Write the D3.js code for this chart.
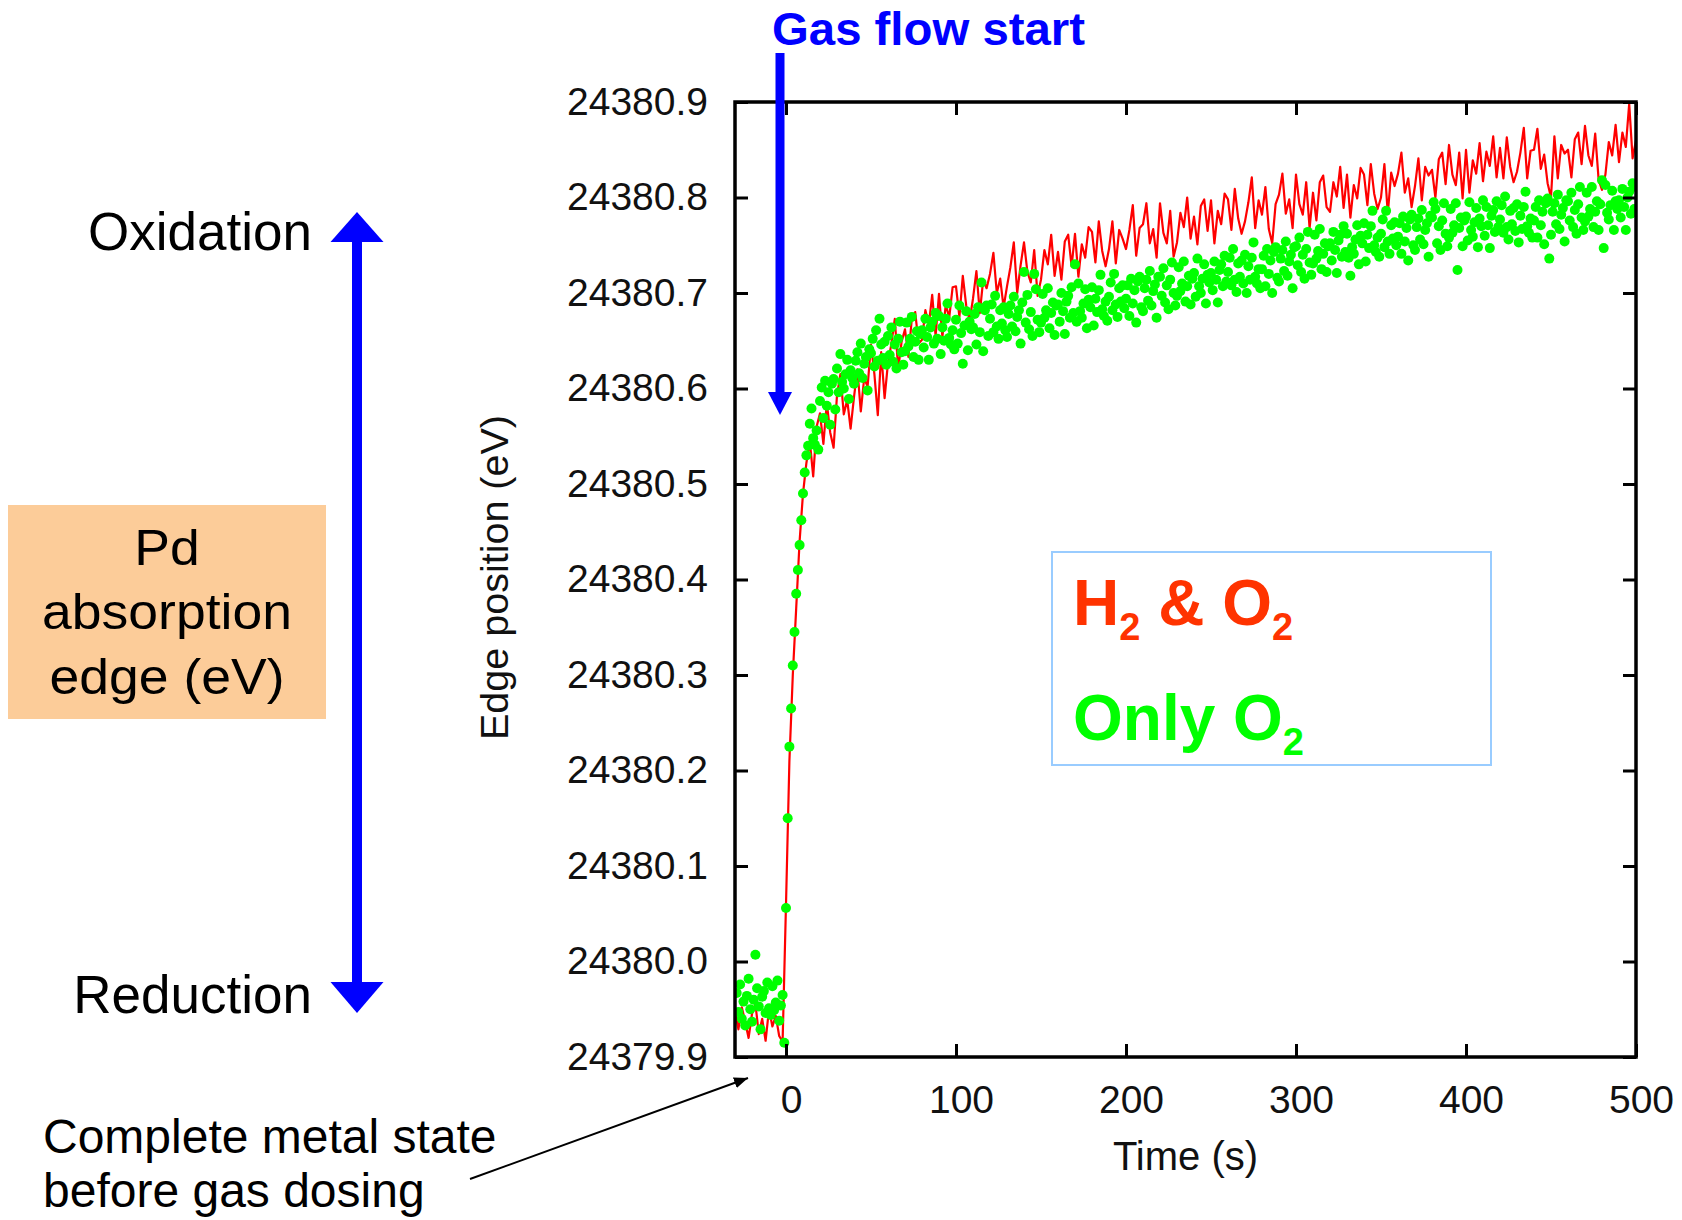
<!DOCTYPE html>
<html lang="en">
<head>
<meta charset="UTF-8">
<title>Pd edge position</title>
<style>
  body { margin: 0; background: #fff; }
  text { font-family: "Liberation Sans", Arial, Helvetica, sans-serif; }
</style>
</head>
<body>
<svg id="chart" width="1682" height="1220"></svg>
<script src="https://d3js.org/d3.v7.min.js"></script>
<script>
// edge positions are kept in meV above 24380 eV
const EDGE_BASE = 24380;

// H2 & O2 run: one reading every 2 s starting at -30 s
const RED_T0 = -30, RED_DT = 2;
const redEdge = [
  -52,-71,-48,-63,-80,-55,-44,-76,-60,-83,-50,-68,-57,-78,-84,
  60,210,300,370,440, 490,522,545,508,560, 574,542,585,554,538, 593,615,573,588,558,
  591,620,576,611,602, 646,615,572,638,590, 627,647,673,620,649, 662,633,673,680,647,
  651,682,667,698,655, 699,654,688,674,706, 707,675,718,687,671, 694,723,679,714,705,
  720,742,700,715,685, 707,727,753,700,729, 753,722,711,745,697, 714,745,730,761,718,
  743,714,754,761,728, 762,717,751,737,769, 764,732,775,744,728, 746,775,731,766,757,
  746,766,792,739,768, 772,794,752,767,737, 794,763,752,786,738, 753,784,769,800,757,
  780,751,791,798,765, 797,752,786,772,804, 798,766,809,778,762, 775,795,821,768,797,
  782,811,767,752,793, 803,825,783,798,768, 824,793,782,816,768, 805,776,816,823,790,
  785,816,801,832,789, 824,779,813,799,831, 824,792,835,804,788, 800,835,783,826,812,
  825,847,805,820,790, 812,841,797,832,823, 829,800,840,847,814, 855,824,813,847,799,
  850,805,839,825,857, 817,848,833,864,821, 852,820,863,832,816, 827,847,873,820,849,
  850,872,830,845,815, 800,864,820,855,846, 850,821,861,868,835, 875,844,833,867,819,
  808,824,858,844,876, 837,868,853,898,841, 860
];

// only O2 run: one reading every 1 s starting at -29 s
const GREEN_T0 = -29, GREEN_DT = 1;
const greenEdge = [
  -33,-53,-24,-60,-42,-67,-36,-18,-50,-63, -40,7,-28,-47,-71,-37,-31,-54,-22,-49,
  -56,-26,-51,-43,-20,-62,-46,-35,-85,
  56,150,225,265,310,345,385,410,436,462, 490,512,530,540,563,579,548,541,556,536,
  587,601,569,608,582,596,562,605,610,578, 621,596,636,607,600,615,630,589,619,611,
  605,629,638,616,647,611,626,633,598,641, 637,652,623,661,629,673,646,632,649,625,
  655,635,664,628,646,621,652,670,638,625, 639,669,644,652,675,633,649,660,630,657,
  661,643,673,654,630,664,670,647,679,652, 676,636,664,650,673,689,653,646,661,641,
  672,647,687,658,626,666,681,640,670,662, 664,678,646,685,659,711,639,682,687,655,
  673,688,659,697,665,652,682,668,685,661, 654,678,687,665,696,660,675,682,647,690,
  722,669,698,662,680,655,720,704,672,659, 669,699,674,682,705,663,679,690,656,687,
  688,670,700,681,657,691,697,674,706,679, 730,670,710,681,674,689,704,663,693,685,
  706,666,694,680,703,719,683,676,691,671, 696,711,682,720,688,675,705,691,708,684,
  694,708,676,715,689,703,669,712,717,685, 681,705,714,692,723,687,702,709,674,717,
  717,697,726,690,708,683,714,732,700,687, 697,727,702,710,733,691,707,718,688,715,
  721,696,736,707,700,715,730,689,719,711, 721,703,733,714,690,724,730,707,739,712,
  722,737,708,746,714,701,731,717,734,710, 740,700,728,714,737,753,717,710,725,705,
  725,739,707,746,720,734,700,743,748,716, 712,736,745,723,754,718,733,740,705,748,
  749,729,758,722,740,715,746,764,732,719, 731,761,736,744,767,725,741,752,722,749,
  752,734,764,745,721,755,761,738,770,743, 762,737,718,748,741,756,771,730,760,752,
  773,733,761,747,770,786,750,743,758,738, 762,777,748,786,754,741,771,757,774,750,
  759,773,741,780,754,768,734,777,782,750, 745,769,778,756,787,751,766,773,738,781,
  779,795,788,752,770,745,776,794,762,749, 758,788,763,771,794,724,768,779,749,776,
  780,755,795,766,759,774,789,748,778,770, 797,760,790,771,747,781,787,764,796,769,
  777,792,763,801,769,756,786,772,789,765, 793,753,781,767,790,806,770,763,778,758,
  776,790,758,797,771,785,751,794,799,736, 761,785,794,772,803,767,782,789,754,797,
  796,776,805,769,787,762,793,811,779,766, 775,805,780,788,811,769,785,796,766,793,
  818,747,813,784,777,792,807,766,796,788, 797,779,809,790,766,800,806,783,815,788,811
];

const yTicks = [24379.9, 24380.0, 24380.1, 24380.2, 24380.3, 24380.4, 24380.5, 24380.6, 24380.7, 24380.8, 24380.9];
const xTicks = [0, 100, 200, 300, 400, 500];

const svg = d3.select('#chart');

// plot area
const plotL = 735, plotR = 1636, plotT = 102, plotB = 1057;

const x = d3.scaleLinear().domain([-30, 500]).range([plotL, plotR]);
const y = d3.scaleLinear().domain([24379.9, 24380.9]).range([plotB, plotT]);

const edge = d => EDGE_BASE + d / 1000;

const defs = svg.append('defs');
defs.append('clipPath').attr('id', 'plotClip')
  .append('rect')
  .attr('x', plotL).attr('y', plotT - 2)
  .attr('width', plotR - plotL).attr('height', plotB - plotT + 2);

// data
const plot = svg.append('g').attr('clip-path', 'url(#plotClip)');

const redLine = d3.line()
  .x((d, i) => x(RED_T0 + i * RED_DT))
  .y(d => y(edge(d)));

plot.append('path')
  .datum(redEdge)
  .attr('d', redLine)
  .attr('fill', 'none')
  .attr('stroke', '#ff0000')
  .attr('stroke-width', 2.2)
  .attr('stroke-linejoin', 'round');

plot.selectAll('.dot')
  .data(greenEdge)
  .enter().append('circle')
  .attr('class', 'dot')
  .attr('cx', (d, i) => x(GREEN_T0 + i * GREEN_DT))
  .attr('cy', d => y(edge(d)))
  .attr('r', 5)
  .attr('fill', '#00ff00');

// axes, ticks point inward
function styleAxis(g) {
  g.select('.domain').remove();
  g.selectAll('line').attr('stroke', '#000').attr('stroke-width', 3);
  g.selectAll('text')
    .attr('font-family', '"Liberation Sans", Arial, sans-serif')
    .attr('font-size', 39)
    .attr('fill', '#111');
}

svg.append('g')
  .attr('transform', `translate(${plotL},0)`)
  .call(d3.axisLeft(y).tickValues(yTicks).tickSize(-13).tickPadding(27).tickFormat(d3.format('.1f')))
  .call(styleAxis);

svg.append('g')
  .attr('transform', `translate(${plotR},0)`)
  .call(d3.axisRight(y).tickValues(yTicks).tickSize(-13).tickFormat(''))
  .call(styleAxis);

const xAxisG = svg.append('g')
  .attr('transform', `translate(0,${plotB})`)
  .call(d3.axisBottom(x).tickValues(xTicks).tickSize(-13).tickPadding(28))
  .call(styleAxis);
xAxisG.selectAll('text').attr('dx', 5);

svg.append('g')
  .attr('transform', `translate(0,${plotT})`)
  .call(d3.axisTop(x).tickValues(xTicks).tickSize(-13).tickFormat(''))
  .call(styleAxis);

// frame
svg.append('rect')
  .attr('x', plotL).attr('y', plotT)
  .attr('width', plotR - plotL).attr('height', plotB - plotT)
  .attr('fill', 'none')
  .attr('stroke', '#000')
  .attr('stroke-width', 3.5);

// axis titles
svg.append('text')
  .attr('x', (plotL + plotR) / 2)
  .attr('y', 1170)
  .attr('text-anchor', 'middle')
  .attr('font-size', 40)
  .attr('fill', '#111')
  .text('Time (s)');

svg.append('text')
  .attr('transform', `translate(508,${(plotT + plotB) / 2 - 2}) rotate(-90)`)
  .attr('text-anchor', 'middle')
  .attr('font-size', 39.5)
  .attr('fill', '#111')
  .text('Edge position (eV)');

// legend box
svg.append('rect')
  .attr('x', 1052).attr('y', 552)
  .attr('width', 439).attr('height', 213)
  .attr('fill', '#fff')
  .attr('stroke', '#99ccff')
  .attr('stroke-width', 2);

const leg1 = svg.append('text')
  .attr('x', 1073).attr('y', 625)
  .attr('font-size', 64).attr('font-weight', 'bold')
  .attr('fill', '#ff3300');
leg1.append('tspan').text('H');
leg1.append('tspan').attr('font-size', 38).attr('dy', 15).text('2');
leg1.append('tspan').attr('dy', -15).text(' & O');
leg1.append('tspan').attr('font-size', 38).attr('dy', 15).text('2');

const leg2 = svg.append('text')
  .attr('x', 1073).attr('y', 740)
  .attr('font-size', 64).attr('font-weight', 'bold')
  .attr('fill', '#00ff00');
leg2.append('tspan').text('Only O');
leg2.append('tspan').attr('font-size', 38).attr('dy', 15).text('2');

// gas flow start marker
const blue = '#0000ff';
svg.append('text')
  .attr('x', 772).attr('y', 45)
  .attr('font-size', 46).attr('font-weight', 'bold')
  .attr('textLength', 313).attr('lengthAdjust', 'spacingAndGlyphs')
  .attr('fill', blue)
  .text('Gas flow start');

svg.append('line')
  .attr('x1', 780).attr('y1', 53)
  .attr('x2', 780).attr('y2', 394)
  .attr('stroke', blue).attr('stroke-width', 9);
svg.append('path')
  .attr('d', 'M768,392 L792,392 L780,415 Z')
  .attr('fill', blue);

// oxidation / reduction arrow
svg.append('line')
  .attr('x1', 357).attr('y1', 240)
  .attr('x2', 357).attr('y2', 984)
  .attr('stroke', blue).attr('stroke-width', 10);
svg.append('path')
  .attr('d', 'M357,212 L383.5,242 L330.5,242 Z')
  .attr('fill', blue);
svg.append('path')
  .attr('d', 'M330.5,982 L383.5,982 L357,1013 Z')
  .attr('fill', blue);

svg.append('text')
  .attr('x', 312).attr('y', 250)
  .attr('text-anchor', 'end')
  .attr('font-size', 53)
  .attr('fill', '#000')
  .text('Oxidation');

svg.append('text')
  .attr('x', 312).attr('y', 1013)
  .attr('text-anchor', 'end')
  .attr('font-size', 53)
  .attr('fill', '#000')
  .text('Reduction');

// Pd absorption edge box
svg.append('rect')
  .attr('x', 8).attr('y', 505)
  .attr('width', 318).attr('height', 214)
  .attr('fill', '#fccc99');

const boxLines = ['Pd', 'absorption', 'edge (eV)'];
svg.append('g')
  .attr('transform', 'translate(167,0) scale(1.07,1)')
  .selectAll('text')
  .data(boxLines)
  .enter().append('text')
  .attr('x', 0)
  .attr('y', (d, i) => 565 + i * 64.5)
  .attr('text-anchor', 'middle')
  .attr('font-size', 50)
  .attr('fill', '#000')
  .text(d => d);

// note on the metal state before dosing
defs.append('marker')
  .attr('id', 'head')
  .attr('viewBox', '0 0 10 10')
  .attr('refX', 10).attr('refY', 5)
  .attr('markerWidth', 7).attr('markerHeight', 7)
  .attr('orient', 'auto')
  .append('path')
  .attr('d', 'M0,1 L10,5 L0,9 Z')
  .attr('fill', '#000');

svg.append('line')
  .attr('x1', 470).attr('y1', 1179)
  .attr('x2', 748).attr('y2', 1078)
  .attr('stroke', '#000').attr('stroke-width', 2)
  .attr('marker-end', 'url(#head)');

const noteLines = ['Complete metal state', 'before gas dosing'];
svg.append('g')
  .selectAll('text')
  .data(noteLines)
  .enter().append('text')
  .attr('x', 43)
  .attr('y', (d, i) => 1153 + i * 54)
  .attr('font-size', 48)
  .attr('fill', '#000')
  .text(d => d);
</script>
</body>
</html>
